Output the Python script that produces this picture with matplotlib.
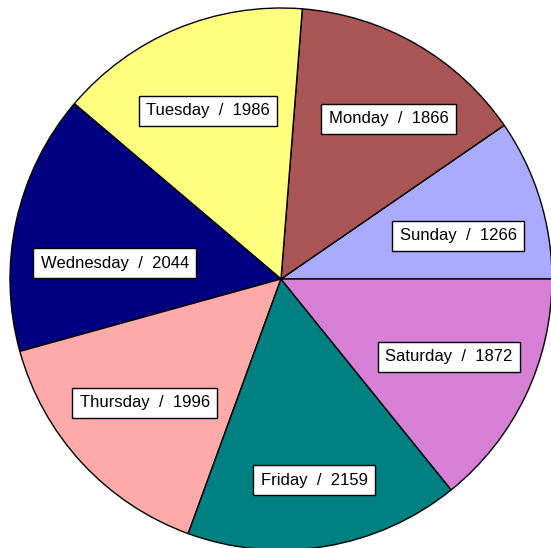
import numpy as np
import matplotlib
matplotlib.use("Agg")
import matplotlib.pyplot as plt

plt.rcParams['font.family'] = ['Liberation Sans', 'DejaVu Sans']

days = ["Sunday", "Monday", "Tuesday", "Wednesday", "Thursday", "Friday", "Saturday"]
counts = [1266, 1866, 1986, 2044, 1996, 2159, 1872]
colors = ["#aaaaff", "#aa5555", "#ffff80", "#000080", "#ffaaaa", "#008080", "#d580d5"]
# small pixel nudges for the label boxes, like the original layout
nudge_x = [-4, 13, 0, 19, 3, 2, -3]
nudge_y = [-13, -4, -7, -25, 5, -14, 4]

fig = plt.figure(figsize=(5.51, 5.48), dpi=100)
# square axes in pixels so the circle stays round, right side runs past the edge
ax = fig.add_axes([10 / 551, -2 / 548, 542 / 551, 542 / 548])

wedges, _ = ax.pie(counts, colors=colors, startangle=0, counterclock=True,
                   radius=1, wedgeprops=dict(edgecolor="black", linewidth=1))
for w in wedges:
    w.set_clip_on(False)

total = sum(counts)
start = 0.0
for day, n, dx, dy in zip(days, counts, nudge_x, nudge_y):
    mid = np.deg2rad(start + n / total * 360 / 2)
    start += n / total * 360
    ax.annotate(f"{day}  /  {n}", (0.7 * np.cos(mid), 0.7 * np.sin(mid)),
                xytext=(dx, dy), textcoords="offset pixels",
                ha="center", va="center", fontsize=12,
                bbox=dict(boxstyle="square,pad=0.45", fc="white", ec="black", lw=1))

ax.set_xlim(-1, 1)
ax.set_ylim(-1, 1)
ax.set_aspect("equal")
ax.axis("off")

fig.savefig("out.png", dpi=100)
